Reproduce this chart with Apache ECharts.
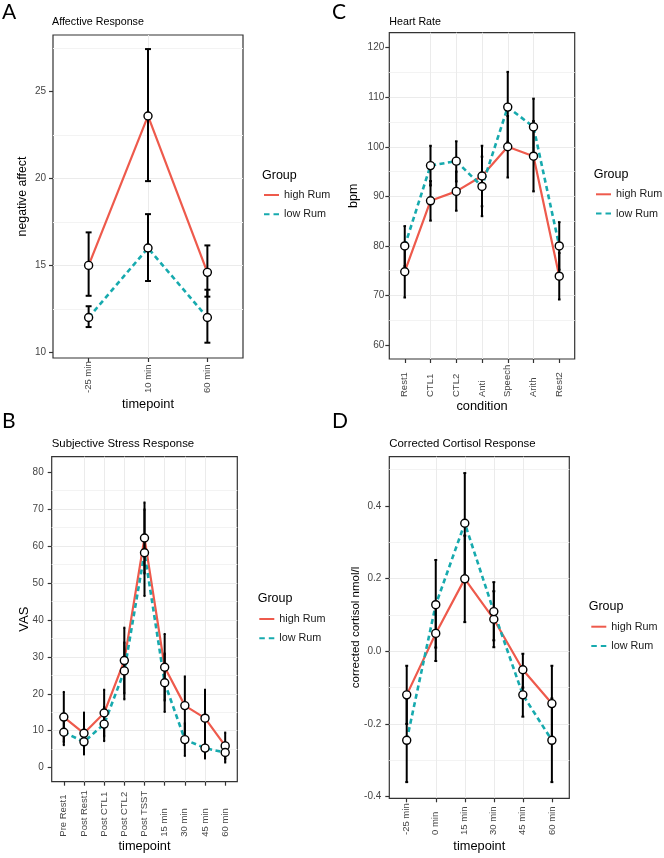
<!DOCTYPE html>
<html>
<head>
<meta charset="utf-8">
<script src="https://cdn.jsdelivr.net/npm/echarts@6/dist/echarts.min.js"></script>
<style>
  html, body { margin: 0; padding: 0; background: #fff; }
  #chart { width: 664px; height: 858px; }
</style>
</head>
<body>
<div id="chart"></div>
<script>
// A: affective response
const affectTimes = ["-25 min", "10 min", "60 min"];
const affectHigh = [15.0, 23.6, 14.6];
const affectHighLo = [13.25, 19.85, 13.2];
const affectHighHi = [16.9, 27.45, 16.15];
const affectLow = [12.0, 16.0, 12.0];
const affectLowLo = [11.45, 14.1, 10.55];
const affectLowHi = [12.65, 17.95, 13.6];
const affectTicks = [10, 15, 20, 25];

// C: heart rate
const hrConditions = ["Rest1", "CTL1", "CTL2", "Anti", "Speech", "Arith", "Rest2"];
const hrHigh = [74.8, 89.1, 91.0, 94.1, 100.0, 98.1, 73.9];
const hrHighLo = [69.6, 85.1, 87.1, 88.0, 93.8, 91.0, 69.2];
const hrHighHi = [80.0, 93.1, 95.0, 100.2, 106.2, 105.2, 78.6];
const hrLow = [80.0, 96.2, 97.1, 92.0, 108.0, 104.0, 80.0];
const hrLowLo = [75.9, 92.2, 93.0, 86.0, 101.0, 98.3, 75.2];
const hrLowHi = [84.0, 100.2, 101.1, 98.0, 115.1, 109.7, 84.8];
const hrTicks = [60, 70, 80, 90, 100, 110, 120];

// B: subjective stress (VAS)
const vasTimes = ["Pre Rest1", "Post Rest1", "Post CTL1", "Post CTL2", "Post TSST", "15 min", "30 min", "45 min", "60 min"];
const vasHigh = [13.7, 9.3, 14.8, 29.0, 62.2, 27.2, 16.8, 13.4, 5.9];
const vasHighLo = [7.0, 3.8, 8.5, 20.1, 52.6, 18.2, 8.9, 5.7, 2.3];
const vasHighHi = [20.5, 14.9, 21.1, 37.9, 71.8, 36.2, 24.7, 21.1, 9.5];
const vasLow = [9.6, 7.0, 11.8, 26.2, 58.2, 23.0, 7.6, 5.3, 4.1];
const vasLowLo = [6.1, 3.6, 7.2, 18.5, 46.5, 15.1, 3.2, 2.5, 1.4];
const vasLowHi = [13.1, 10.4, 16.4, 33.9, 69.9, 30.9, 12.0, 8.1, 6.8];
const vasTicks = [0, 10, 20, 30, 40, 50, 60, 70, 80];

// D: corrected cortisol
const cortTimes = ["-25 min", "0 min", "15 min", "30 min", "45 min", "60 min"];
const cortHigh = [-0.12, 0.049, 0.199, 0.088, -0.051, -0.144];
const cortHighLo = [-0.2, -0.027, 0.08, 0.011, -0.1, -0.244];
const cortHighHi = [-0.04, 0.125, 0.318, 0.165, -0.007, -0.04];
const cortLow = [-0.245, 0.128, 0.352, 0.109, -0.12, -0.245];
const cortLowLo = [-0.36, 0.01, 0.21, 0.03, -0.18, -0.36];
const cortLowHi = [-0.13, 0.251, 0.49, 0.19, -0.06, -0.13];
const cortTicks = [-0.4, -0.2, 0, 0.2, 0.4];

const FONT = '"Liberation Sans", Arial, sans-serif';
const RED = "#ee5a4c";
const TEAL = "#17aaae";
const SOLID_ICON = "path://M0,0H15V2H0Z";
const DASH_ICON = "path://M0,0H5.5V2H0Z M9.5,0H15V2H9.5Z";

const panels = [
  {
    letter: "A", letterPos: [2, 12], title: "Affective Response", titlePos: [52, 21.7], titleSize: 10.7,
    grid: { left: 53, top: 35, width: 190, height: 323 },
    cats: affectTimes, high: affectHigh, highLo: affectHighLo, highHi: affectHighHi,
    low: affectLow, lowLo: affectLowLo, lowHi: affectLowHi,
    yMin: 9.67, yMax: 28.26, yStep: 5, ticks: affectTicks, fmt: (v) => String(v),
    yName: "negative affect", yNameGap: 24, yNameSize: 12.3, yLabelMargin: 7,
    xName: "timepoint", xNameGap: 40, xLabelMargin: 35,
    groupPos: [262, 176], legendPos: [264, 189],
  },
  {
    letter: "C", letterPos: [332, 12], title: "Heart Rate", titlePos: [389.3, 22], titleSize: 10.7,
    grid: { left: 389.3, top: 32.7, width: 185.4, height: 326.3 },
    cats: hrConditions, high: hrHigh, highLo: hrHighLo, highHi: hrHighHi,
    low: hrLow, lowLo: hrLowLo, lowHi: hrLowHi,
    yMin: 57.2, yMax: 123.0, yStep: 10, ticks: hrTicks, fmt: (v) => String(v),
    yName: "bpm", yNameGap: 29, yNameSize: 12.5, yLabelMargin: 5,
    xName: "condition", xNameGap: 41, xLabelMargin: 38,
    groupPos: [593.7, 175], legendPos: [596, 188.3],
  },
  {
    letter: "B", letterPos: [2, 421], title: "Subjective Stress Response", titlePos: [51.7, 443.8], titleSize: 11.4,
    grid: { left: 51.7, top: 456.7, width: 185.6, height: 325 },
    cats: vasTimes, high: vasHigh, highLo: vasHighLo, highHi: vasHighHi,
    low: vasLow, lowLo: vasLowLo, lowHi: vasLowHi,
    yMin: -3.8, yMax: 84.2, yStep: 10, ticks: vasTicks, fmt: (v) => String(v),
    yName: "VAS", yNameGap: 21, yNameSize: 13, yLabelMargin: 8,
    xName: "timepoint", xNameGap: 58, xLabelMargin: 55,
    groupPos: [257.7, 599], legendPos: [259.3, 613],
  },
  {
    letter: "D", letterPos: [332, 421], title: "Corrected Cortisol Response", titlePos: [389.3, 443.8], titleSize: 11.4,
    grid: { left: 389.3, top: 456.7, width: 180, height: 341.6 },
    cats: cortTimes, high: cortHigh, highLo: cortHighLo, highHi: cortHighHi,
    low: cortLow, lowLo: cortLowLo, lowHi: cortLowHi,
    yMin: -0.4045, yMax: 0.535, yStep: 0.2, ticks: cortTicks, fmt: (v) => v.toFixed(1),
    yName: "corrected cortisol nmol/l", yNameGap: 27, yNameSize: 11.5, yLabelMargin: 8,
    xName: "timepoint", xNameGap: 42, xLabelMargin: 36.7,
    groupPos: [588.7, 606.7], legendPos: [591.3, 620.7],
  },
];

function renderErrorBar(params, api) {
  const x = api.value(0);
  const lo = api.coord([x, api.value(1)]);
  const hi = api.coord([x, api.value(2)]);
  const capL = api.coord([x - 0.05, api.value(1)])[0];
  const capR = api.coord([x + 0.05, api.value(1)])[0];
  const style = { stroke: "#000", lineWidth: 2 };
  return {
    type: "group",
    children: [
      { type: "line", shape: { x1: lo[0], y1: lo[1], x2: hi[0], y2: hi[1] }, style },
      { type: "line", shape: { x1: capL, y1: lo[1], x2: capR, y2: lo[1] }, style },
      { type: "line", shape: { x1: capL, y1: hi[1], x2: capR, y2: hi[1] }, style },
    ],
  };
}

const grids = [];
const xAxes = [];
const yAxes = [];
const series = [];
const legends = [];
const graphics = [];

panels.forEach((p, i) => {
  const n = p.cats.length;
  const idx = p.cats.map((c, j) => j);

  grids.push({
    ...p.grid,
    show: true,
    backgroundColor: "#fff",
    borderColor: "#333",
    borderWidth: 1.2,
    containLabel: false,
    outerBoundsMode: "none",
  });

  xAxes.push({
    type: "value",
    gridIndex: i,
    min: -0.6,
    max: n - 0.4,
    minInterval: 1,
    maxInterval: 1,
    axisLine: { show: false, onZero: false },
    axisTick: { show: true, length: 4, lineStyle: { color: "#333", width: 1.2 }, customValues: idx },
    axisLabel: {
      customValues: idx,
      rotate: 90,
      align: "left",
      verticalAlign: "middle",
      margin: p.xLabelMargin,
      fontSize: 9.5,
      fontFamily: FONT,
      color: "#454545",
      formatter: (v) => p.cats[Math.round(v)],
    },
    splitLine: { show: true, showMinLine: false, showMaxLine: false, lineStyle: { color: "#ebebeb", width: 1 } },
    name: p.xName,
    nameLocation: "middle",
    nameGap: p.xNameGap,
    nameMoveOverlap: false,
    nameTextStyle: { fontSize: 12.8, fontFamily: FONT, color: "#000" },
  });

  yAxes.push({
    type: "value",
    gridIndex: i,
    min: p.yMin,
    max: p.yMax,
    minInterval: p.yStep,
    maxInterval: p.yStep,
    axisLine: { show: false, onZero: false },
    axisTick: { show: true, length: 4, lineStyle: { color: "#333", width: 1.2 }, customValues: p.ticks },
    axisLabel: {
      customValues: p.ticks,
      margin: p.yLabelMargin,
      fontSize: 10,
      fontFamily: FONT,
      color: "#454545",
      formatter: p.fmt,
    },
    splitLine: { show: true, showMinLine: false, showMaxLine: false, lineStyle: { color: "#ebebeb", width: 1 } },
    minorTick: { show: false, splitNumber: 2 },
    minorSplitLine: { show: true, lineStyle: { color: "#f3f3f3", width: 1 } },
    name: p.yName,
    nameLocation: "middle",
    nameRotate: 90,
    nameGap: p.yNameGap,
    nameMoveOverlap: false,
    nameTextStyle: { fontSize: p.yNameSize, fontFamily: FONT, color: "#000" },
  });

  const groups = [
    { name: "high Rum", color: RED, mean: p.high, lo: p.highLo, hi: p.highHi, dash: "solid", width: 2.2 },
    { name: "low Rum", color: TEAL, mean: p.low, lo: p.lowLo, hi: p.lowHi, dash: [5, 3.5], width: 2.6 },
  ];

  groups.forEach((g) => {
    series.push({
      name: g.name,
      type: "line",
      xAxisIndex: i,
      yAxisIndex: i,
      data: g.mean.map((v, j) => [j, v]),
      symbol: "none",
      lineStyle: { color: g.color, width: g.width, type: g.dash },
      itemStyle: { color: g.color },
      z: 2,
      silent: true,
    });
  });

  groups.forEach((g) => {
    series.push({
      name: g.name + " SE",
      type: "custom",
      xAxisIndex: i,
      yAxisIndex: i,
      data: g.mean.map((v, j) => [j, g.lo[j], g.hi[j]]),
      encode: { x: 0, y: [1, 2] },
      renderItem: renderErrorBar,
      z: 3,
      silent: true,
    });
  });

  groups.forEach((g) => {
    series.push({
      name: g.name + " mean",
      type: "scatter",
      xAxisIndex: i,
      yAxisIndex: i,
      data: g.mean.map((v, j) => [j, v]),
      symbol: "circle",
      symbolSize: 8,
      itemStyle: { color: "#fff", borderColor: "#000", borderWidth: 1.4, opacity: 1 },
      z: 4,
      silent: true,
    });
  });

  legends.push({
    orient: "vertical",
    left: p.legendPos[0],
    top: p.legendPos[1],
    padding: 0,
    itemWidth: 15,
    itemHeight: 2.3,
    itemGap: 7.3,
    selectedMode: false,
    itemStyle: { borderWidth: 0 },
    textStyle: { fontSize: 10.8, fontFamily: FONT, color: "#1a1a1a", lineHeight: 12 },
    data: [
      { name: "high Rum", icon: SOLID_ICON },
      { name: "low Rum", icon: DASH_ICON },
    ],
  });

  graphics.push(
    {
      type: "text", x: p.letterPos[0], y: p.letterPos[1], silent: true,
      style: { text: p.letter, fontSize: 21, fontFamily: "Lato, " + FONT, fill: "#000", verticalAlign: "middle" },
    },
    {
      type: "text", x: p.titlePos[0], y: p.titlePos[1], silent: true,
      style: { text: p.title, fontSize: p.titleSize, fontFamily: FONT, fill: "#000", verticalAlign: "middle" },
    },
    {
      type: "text", x: p.groupPos[0], y: p.groupPos[1], silent: true,
      style: { text: "Group", fontSize: 12.5, fontFamily: FONT, fill: "#000", verticalAlign: "middle" },
    }
  );
});

const chart = echarts.init(document.getElementById("chart"), null, { renderer: "canvas" });
chart.setOption({
  animation: false,
  backgroundColor: "#fff",
  grid: grids,
  xAxis: xAxes,
  yAxis: yAxes,
  legend: legends,
  graphic: graphics,
  series: series,
});
</script>
</body>
</html>
